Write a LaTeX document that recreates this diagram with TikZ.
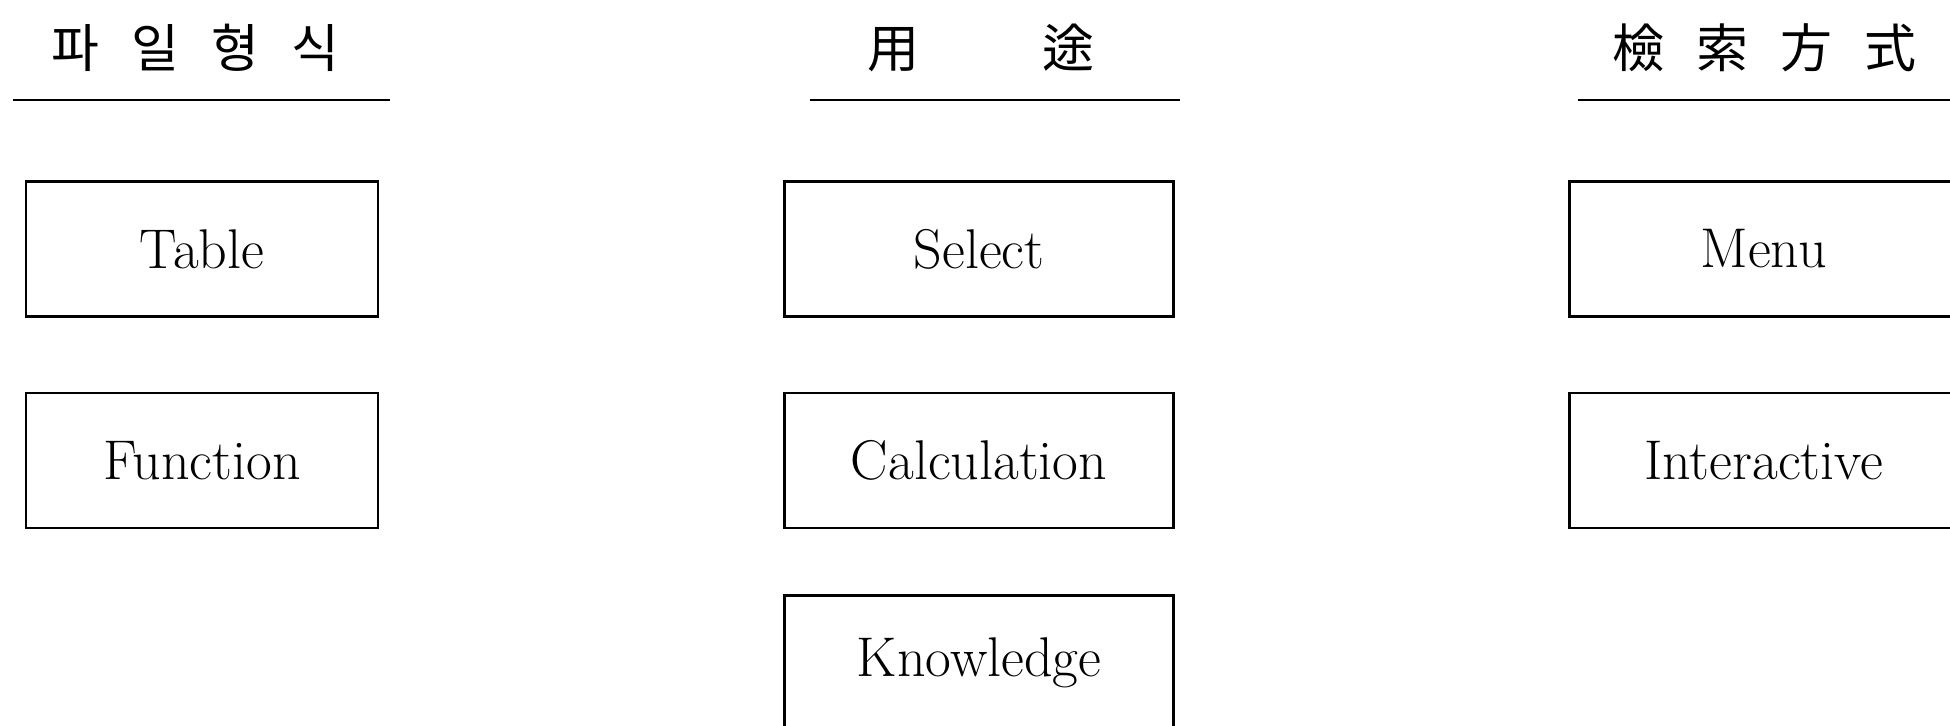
\documentclass[tikz,border=0pt]{standalone}
\usepackage{fontspec}
\newfontfamily\cjk{Noto Sans CJK KR}
\usetikzlibrary{positioning}
\tikzset{
	cell/.style = {draw, line width=1.3pt, minimum width=#1, minimum height=67.5pt, inner sep=0pt, font=\fontsize{28}{34}\selectfont},
	cell/.default = 194.5pt,
	heading/.style = {anchor=south, minimum width=#1, inner xsep=0pt, inner ysep=16pt, text depth=0pt, font=\cjk\fontsize{26}{30}\selectfont},
	rule/.style = {line width=1.3pt}
}
\newcommand{\gapA}{\hspace{16pt}}
\newcommand{\gapB}{\hspace{62pt}}

\begin{document}
\begin{tikzpicture}[x=0.5pt, y=-0.5pt]
	\useasboundingbox (0,0) rectangle (1950,726);
	
	% headings
	\node [heading=188.5pt] (fileh) at (201.5,100) {파\gapA 일\gapA 형\gapA 식\kern6pt};
	\node [heading=185pt] (useh) at (995,100) {用\gapB 途\kern14pt};
	\node [heading=186.5pt] (searchh) at (1764.5,100) {檢\gapA 索\gapA 方\gapA 式};
	\draw [rule] (fileh.south west) -- (fileh.south east);
	\draw [rule] (useh.south west) -- (useh.south east);
	\draw [rule] (searchh.south west) -- (searchh.south east);
	
	% boxes
	\node [cell=176pt] (table) at (202,249) {Table};
	\node [cell=176pt] [below=37pt of table] (function) {Function};
	
	\node [cell] [right=202pt of table] (select) {Select};
	\node [cell] [below=37pt of select] (calc) {Calculation};
	\node [cell] [below=32.5pt of calc] (know) {Knowledge};
	
	\node [cell] [right=196.5pt of select] (menu) {Menu};
	\node [cell] [below=37pt of menu] (inter) {Interactive};
\end{tikzpicture}
\end{document}
